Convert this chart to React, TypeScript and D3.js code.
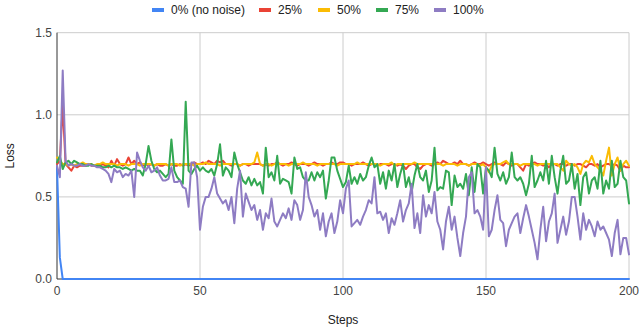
import React from "react";
import * as d3 from "d3";

const seriesNames = ["0% (no noise)", "25%", "50%", "75%", "100%"];
const seriesColors = ["#4285F4", "#EA4335", "#FBBC04", "#34A853", "#8E7CC3"];
const xTicks = [0, 50, 100, 150, 200];
const yTicks = [0, 0.5, 1.0, 1.5];
const yTickLabels = ["0.0", "0.5", "1.0", "1.5"];

const noise0 = [
  0.68, 0.13, 0, 0, 0, 0, 0, 0, 0, 0,
  0, 0, 0, 0, 0, 0, 0, 0, 0, 0,
  0, 0, 0, 0, 0, 0, 0, 0, 0, 0,
  0, 0, 0, 0, 0, 0, 0, 0, 0, 0,
  0, 0, 0, 0, 0, 0, 0, 0, 0, 0,
  0, 0, 0, 0, 0, 0, 0, 0, 0, 0,
  0, 0, 0, 0, 0, 0, 0, 0, 0, 0,
  0, 0, 0, 0, 0, 0, 0, 0, 0, 0,
  0, 0, 0, 0, 0, 0, 0, 0, 0, 0,
  0, 0, 0, 0, 0, 0, 0, 0, 0, 0,
  0, 0, 0, 0, 0, 0, 0, 0, 0, 0,
  0, 0, 0, 0, 0, 0, 0, 0, 0, 0,
  0, 0, 0, 0, 0, 0, 0, 0, 0, 0,
  0, 0, 0, 0, 0, 0, 0, 0, 0, 0,
  0, 0, 0, 0, 0, 0, 0, 0, 0, 0,
  0, 0, 0, 0, 0, 0, 0, 0, 0, 0,
  0, 0, 0, 0, 0, 0, 0, 0, 0, 0,
  0, 0, 0, 0, 0, 0, 0, 0, 0, 0,
  0, 0, 0, 0, 0, 0, 0, 0, 0, 0,
  0, 0, 0, 0, 0, 0, 0, 0, 0, 0,
  0,
];

const noise25 = [
  0.70, 0.72, 1.06, 0.70, 0.68, 0.66, 0.69, 0.68, 0.69, 0.69,
  0.69, 0.70, 0.69, 0.69, 0.69, 0.69, 0.70, 0.69, 0.68, 0.72,
  0.69, 0.73, 0.70, 0.69, 0.70, 0.74, 0.70, 0.72, 0.70, 0.71,
  0.69, 0.70, 0.69, 0.70, 0.69, 0.70, 0.69, 0.69, 0.70, 0.69,
  0.70, 0.69, 0.69, 0.70, 0.69, 0.70, 0.69, 0.70, 0.71, 0.70,
  0.70, 0.71, 0.70, 0.72, 0.71, 0.70, 0.72, 0.71, 0.72, 0.70,
  0.70, 0.69, 0.70, 0.70, 0.69, 0.70, 0.70, 0.69, 0.70, 0.70,
  0.70, 0.70, 0.69, 0.70, 0.69, 0.70, 0.70, 0.71, 0.70, 0.69,
  0.70, 0.70, 0.71, 0.70, 0.69, 0.70, 0.70, 0.70, 0.69, 0.70,
  0.71, 0.70, 0.70, 0.69, 0.70, 0.70, 0.71, 0.70, 0.70, 0.71,
  0.71, 0.70, 0.70, 0.69, 0.70, 0.70, 0.70, 0.71, 0.70, 0.69,
  0.70, 0.70, 0.69, 0.70, 0.70, 0.70, 0.69, 0.70, 0.70, 0.69,
  0.70, 0.69, 0.67, 0.69, 0.70, 0.70, 0.68, 0.67, 0.69, 0.70,
  0.70, 0.69, 0.70, 0.71, 0.70, 0.72, 0.71, 0.70, 0.70, 0.71,
  0.70, 0.72, 0.70, 0.70, 0.69, 0.70, 0.71, 0.70, 0.70, 0.71,
  0.70, 0.69, 0.70, 0.71, 0.70, 0.70, 0.69, 0.71, 0.70, 0.69,
  0.70, 0.70, 0.68, 0.66, 0.70, 0.69, 0.70, 0.71, 0.70, 0.70,
  0.69, 0.70, 0.68, 0.70, 0.70, 0.69, 0.70, 0.70, 0.69, 0.70,
  0.70, 0.69, 0.70, 0.70, 0.69, 0.68, 0.70, 0.70, 0.69, 0.70,
  0.68, 0.69, 0.70, 0.70, 0.69, 0.70, 0.69, 0.66, 0.69, 0.68,
  0.68,
];

const noise50 = [
  0.74, 0.72, 0.70, 0.70, 0.69, 0.70, 0.69, 0.70, 0.70, 0.71,
  0.70, 0.70, 0.70, 0.69, 0.70, 0.70, 0.71, 0.70, 0.70, 0.70,
  0.70, 0.69, 0.70, 0.70, 0.70, 0.69, 0.70, 0.70, 0.70, 0.69,
  0.70, 0.70, 0.70, 0.70, 0.69, 0.70, 0.70, 0.70, 0.70, 0.69,
  0.70, 0.70, 0.70, 0.69, 0.70, 0.70, 0.70, 0.70, 0.69, 0.70,
  0.70, 0.70, 0.71, 0.70, 0.70, 0.70, 0.70, 0.69, 0.70, 0.70,
  0.70, 0.70, 0.70, 0.70, 0.69, 0.70, 0.70, 0.70, 0.70, 0.71,
  0.77, 0.70, 0.69, 0.70, 0.70, 0.69, 0.70, 0.70, 0.70, 0.70,
  0.70, 0.69, 0.70, 0.70, 0.70, 0.70, 0.71, 0.70, 0.70, 0.70,
  0.70, 0.69, 0.70, 0.70, 0.70, 0.70, 0.70, 0.70, 0.69, 0.70,
  0.70, 0.70, 0.70, 0.70, 0.70, 0.71, 0.70, 0.70, 0.70, 0.70,
  0.70, 0.70, 0.70, 0.69, 0.70, 0.70, 0.70, 0.71, 0.69, 0.70,
  0.70, 0.70, 0.70, 0.70, 0.70, 0.71, 0.70, 0.70, 0.70, 0.70,
  0.70, 0.70, 0.70, 0.70, 0.70, 0.69, 0.70, 0.70, 0.70, 0.70,
  0.69, 0.70, 0.70, 0.70, 0.69, 0.70, 0.70, 0.70, 0.69, 0.70,
  0.68, 0.65, 0.69, 0.70, 0.70, 0.70, 0.71, 0.72, 0.70, 0.70,
  0.70, 0.70, 0.69, 0.70, 0.70, 0.70, 0.70, 0.70, 0.69, 0.70,
  0.70, 0.70, 0.70, 0.70, 0.70, 0.70, 0.68, 0.66, 0.72, 0.70,
  0.69, 0.70, 0.68, 0.64, 0.70, 0.72, 0.71, 0.75, 0.70, 0.68,
  0.66, 0.63, 0.72, 0.80, 0.63, 0.70, 0.74, 0.66, 0.70, 0.72,
  0.69,
];

const noise75 = [
  0.71, 0.75, 0.67, 0.71, 0.72, 0.70, 0.72, 0.71, 0.70, 0.70,
  0.69, 0.69, 0.70, 0.69, 0.69, 0.69, 0.68, 0.68, 0.69, 0.68,
  0.69, 0.68, 0.68, 0.67, 0.68, 0.67, 0.66, 0.67, 0.66, 0.66,
  0.63, 0.70, 0.81, 0.72, 0.67, 0.65, 0.66, 0.64, 0.62, 0.64,
  0.85, 0.66, 0.62, 0.60, 0.58, 1.08, 0.66, 0.64, 0.67, 0.69,
  0.66, 0.68, 0.66, 0.65, 0.67, 0.63, 0.70, 0.82, 0.63, 0.68,
  0.66, 0.62, 0.77, 0.70, 0.65, 0.60, 0.58, 0.62, 0.57, 0.61,
  0.57, 0.59, 0.52, 0.80, 0.62, 0.65, 0.60, 0.75, 0.58, 0.61,
  0.60, 0.59, 0.52, 0.74, 0.67, 0.68, 0.62, 0.60, 0.60, 0.65,
  0.60, 0.65, 0.62, 0.66, 0.49, 0.60, 0.74, 0.74, 0.66, 0.61,
  0.56, 0.59, 0.69, 0.58, 0.62, 0.58, 0.64, 0.60, 0.62, 0.69,
  0.74, 0.68, 0.70, 0.58, 0.65, 0.55, 0.66, 0.60, 0.70, 0.56,
  0.64, 0.70, 0.56, 0.62, 0.53, 0.63, 0.70, 0.62, 0.60, 0.66,
  0.53, 0.60, 0.80, 0.54, 0.56, 0.55, 0.66, 0.65, 0.45, 0.63,
  0.56, 0.58, 0.55, 0.64, 0.51, 0.68, 0.53, 0.70, 0.68, 0.52,
  0.68, 0.66, 0.62, 0.80, 0.64, 0.60, 0.65, 0.58, 0.62, 0.77,
  0.62, 0.60, 0.62, 0.58, 0.51, 0.58, 0.75, 0.56, 0.60, 0.65,
  0.60, 0.72, 0.58, 0.75, 0.62, 0.52, 0.66, 0.75, 0.58, 0.60,
  0.70, 0.55, 0.64, 0.45, 0.62, 0.65, 0.52, 0.60, 0.62, 0.55,
  0.72, 0.52, 0.60, 0.55, 0.72, 0.56, 0.58, 0.72, 0.62, 0.60,
  0.46,
];

const noise100 = [
  0.69, 0.62, 1.27, 0.72, 0.69, 0.70, 0.69, 0.69, 0.70, 0.69,
  0.69, 0.70, 0.69, 0.69, 0.68, 0.68, 0.67, 0.66, 0.64, 0.59,
  0.67, 0.65, 0.66, 0.62, 0.64, 0.63, 0.66, 0.50, 0.77, 0.72,
  0.68, 0.66, 0.69, 0.65, 0.66, 0.68, 0.63, 0.60, 0.60, 0.61,
  0.68, 0.59, 0.59, 0.60, 0.56, 0.55, 0.44, 0.71, 0.71, 0.62,
  0.30, 0.44, 0.50, 0.50, 0.55, 0.62, 0.52, 0.49, 0.46, 0.48,
  0.42, 0.50, 0.34, 0.55, 0.66, 0.38, 0.52, 0.47, 0.42, 0.45,
  0.36, 0.42, 0.30, 0.40, 0.37, 0.49, 0.35, 0.32, 0.36, 0.40,
  0.37, 0.43, 0.36, 0.48, 0.45, 0.36, 0.42, 0.65, 0.50, 0.45,
  0.38, 0.42, 0.30, 0.40, 0.26, 0.35, 0.40, 0.28, 0.35, 0.48,
  0.40, 0.55, 0.60, 0.32, 0.34, 0.36, 0.33, 0.38, 0.42, 0.48,
  0.46, 0.62, 0.40, 0.41, 0.36, 0.40, 0.28, 0.37, 0.33, 0.40,
  0.48, 0.35, 0.42, 0.46, 0.58, 0.31, 0.40, 0.28, 0.51, 0.38,
  0.45, 0.40, 0.53, 0.35, 0.30, 0.18, 0.35, 0.44, 0.30, 0.38,
  0.25, 0.14, 0.28, 0.38, 0.62, 0.65, 0.40, 0.42, 0.38, 0.30,
  0.68, 0.26, 0.30, 0.42, 0.51, 0.36, 0.34, 0.20, 0.30, 0.34,
  0.38, 0.40, 0.28, 0.37, 0.45, 0.38, 0.30, 0.22, 0.12, 0.30,
  0.44, 0.23, 0.35, 0.40, 0.52, 0.22, 0.30, 0.38, 0.27, 0.35,
  0.50, 0.50, 0.38, 0.24, 0.40, 0.30, 0.36, 0.32, 0.26, 0.35,
  0.30, 0.32, 0.28, 0.24, 0.14, 0.28, 0.36, 0.15, 0.25, 0.25,
  0.15,
];

const seriesValues = [noise0, noise25, noise50, noise75, noise100];

const W = 640;
const H = 331;
const M = { left: 57, right: 629, top: 32.7, bottom: 279 };
const legendX = [152, 259, 318, 376, 434];

export default function App() {
  const x = d3.scaleLinear().domain([0, 200]).range([M.left, M.right]);
  const y = d3.scaleLinear().domain([0, 1.5]).range([M.bottom, M.top]);
  const line = d3
    .line<number>()
    .x((_, i) => x(i))
    .y((d) => y(d));
  const font = "Arial, 'Liberation Sans', sans-serif";

  return (
    <svg
      width={W}
      height={H}
      style={{ position: "absolute", left: 0, top: 0, background: "#fff" }}
      fontFamily={font}
    >
      {/* horizontal gridlines */}
      {yTicks.map((t) =>
        t === 0 ? null : (
          <line key={"hy" + t} x1={M.left} x2={M.right} y1={y(t)} y2={y(t)} stroke="#cccccc" strokeWidth={1} />
        )
      )}
      {/* vertical gridlines */}
      {xTicks.map((t) =>
        t === 0 ? null : (
          <line key={"vx" + t} x1={x(t)} x2={x(t)} y1={M.top} y2={M.bottom} stroke="#cccccc" strokeWidth={1} />
        )
      )}
      {/* baselines */}
      <line x1={M.left} x2={M.right} y1={y(0)} y2={y(0)} stroke="#333" strokeWidth={1} />
      <line x1={x(0)} x2={x(0)} y1={M.top} y2={M.bottom} stroke="#333" strokeWidth={1} />

      {/* series */}
      {seriesValues.map((vals, si) => (
        <path
          key={"s" + si}
          d={line(vals) || ""}
          fill="none"
          stroke={seriesColors[si]}
          strokeWidth={2}
          strokeLinejoin="round"
          strokeLinecap="round"
        />
      ))}

      {/* y tick labels */}
      {yTicks.map((t, i) => (
        <text key={"yl" + t} x={52} y={y(t) + 4} textAnchor="end" fontSize={12} fill="#444">
          {yTickLabels[i]}
        </text>
      ))}
      {/* x tick labels */}
      {xTicks.map((t) => (
        <text key={"xl" + t} x={x(t)} y={295} textAnchor="middle" fontSize={12} fill="#444">
          {t}
        </text>
      ))}

      {/* axis titles */}
      <text x={(M.left + M.right) / 2} y={324} textAnchor="middle" fontSize={12} fill="#222">
        Steps
      </text>
      <text
        transform={`translate(14, ${(M.top + M.bottom) / 2}) rotate(-90)`}
        textAnchor="middle"
        fontSize={12}
        fill="#222"
      >
        Loss
      </text>

      {/* legend */}
      {seriesNames.map((name, i) => (
        <g key={"lg" + i}>
          <rect x={legendX[i]} y={8} width={12} height={4} fill={seriesColors[i]} />
          <text x={legendX[i] + 19} y={14} fontSize={12} fill="#222">
            {name}
          </text>
        </g>
      ))}
    </svg>
  );
}
